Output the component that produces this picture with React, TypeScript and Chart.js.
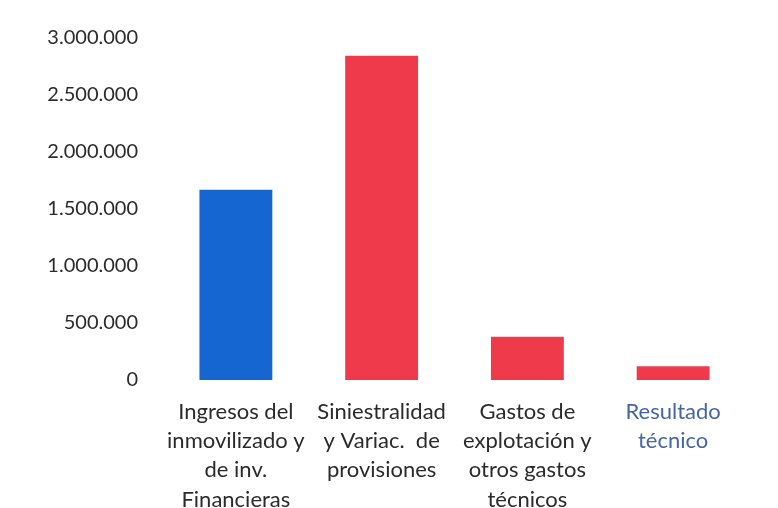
import React, { useEffect, useRef } from "react";
import { Chart, registerables } from "chart.js";

Chart.register(...registerables);

const categories: string[][] = [
  ["Ingresos del", "inmovilizado y", "de inv.", "Financieras"],
  ["Siniestralidad", "y Variac.  de", "provisiones"],
  ["Gastos de", "explotación y", "otros gastos", "técnicos"],
  ["Resultado", "técnico"],
];
const values: number[] = [1668000, 2845000, 379000, 120000];
const barColors: string[] = ["#1666d2", "#ee3a4a", "#ee3a4a", "#ee3a4a"];
const labelColors: string[] = ["#2b2b2b", "#2b2b2b", "#2b2b2b", "#4566a3"];

const fmt = (v: number) => Math.round(v).toString().replace(/\B(?=(\d{3})+(?!\d))/g, ".");

export default function App() {
  const ref = useRef<HTMLCanvasElement | null>(null);
  useEffect(() => {
    if (!ref.current) return;
    const chart = new Chart(ref.current, {
      type: "bar",
      data: {
        labels: categories,
        datasets: [
          {
            data: values,
            backgroundColor: barColors,
            borderWidth: 0,
            barPercentage: 0.5,
            categoryPercentage: 1,
          },
        ],
      },
      options: {
        animation: false,
        responsive: false,
        maintainAspectRatio: false,
        layout: { padding: { top: 30, right: 24, left: 0, bottom: 0 } },
        plugins: { legend: { display: false }, tooltip: { enabled: false } },
        scales: {
          x: {
            grid: { display: false },
            border: { display: false },
            ticks: {
              padding: 9,
              maxRotation: 0,
              autoSkip: false,
              color: (ctx: any) => labelColors[ctx.index] || "#2b2b2b",
              font: { family: "Lato, 'Open Sans', sans-serif", size: 22, lineHeight: 1.33 },
            },
            afterFit: (s: any) => {
              s.height = 128;
            },
          },
          y: {
            min: 0,
            max: 3000000,
            grid: { display: false },
            border: { display: false },
            ticks: {
              stepSize: 500000,
              padding: 17,
              color: "#2b2b2b",
              font: { family: "Lato, 'Open Sans', sans-serif", size: 20 },
              callback: (v: any) => fmt(Number(v)),
            },
            afterFit: (s: any) => {
              s.width = 155;
            },
          },
        },
      },
    });
    return () => chart.destroy();
  }, []);
  return (
    <div style={{ width: 762, height: 500 }}>
      <canvas ref={ref} width={762} height={500} style={{ display: "block" }} />
    </div>
  );
}
